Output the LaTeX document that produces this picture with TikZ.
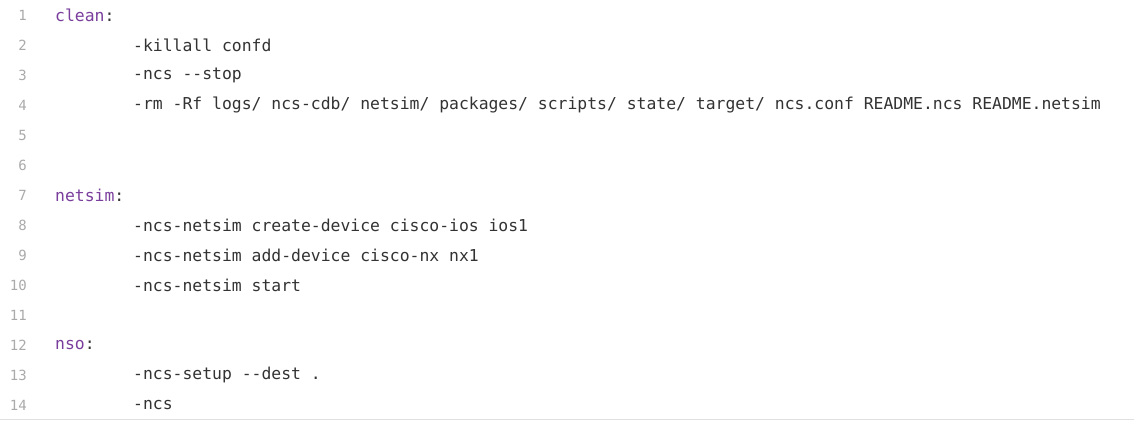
\documentclass[tikz,border=0pt]{standalone}
\usepackage{fontspec}
\setmonofont{DejaVu Sans Mono}
\usetikzlibrary{positioning}
\definecolor{numgray}{HTML}{AAAAAA}
\definecolor{keypurple}{HTML}{7A3E9D}
\definecolor{codetext}{HTML}{333333}
\definecolor{rulegray}{HTML}{E0E0E0}
\tikzset{
  num/.style={anchor=east,inner sep=0pt,text=numgray,font=\ttfamily\fontsize{14}{14}\selectfont},
  key/.style={anchor=west,inner sep=0pt,text=keypurple,font=\ttfamily\fontsize{16.4}{16}\selectfont},
  cmd/.style={anchor=west,inner sep=0pt,text=codetext,font=\ttfamily\fontsize{16.4}{16}\selectfont}
}
\begin{document}
\begin{tikzpicture}[x=1pt,y=-1pt]
\useasboundingbox (0,0) rectangle (1134,421);
\fill[white] (0,0) rectangle (1134,421);
\draw[rulegray,line width=1.5pt] (0,419.5) -- (1134,419.5);

% line numbers
\foreach \n in {1,...,14}
  \node[num] (n\n) at (27,{15+30*(\n-1)}) {\n};

\node[key] (l1) at (55,15) {clean\textcolor{codetext}{:}};
\node[cmd] (l2) at (133,45) {-killall confd};
\node[cmd] (l3) at (133,75) {-ncs --stop};
\node[cmd] (l4) at (133,105) {-rm -Rf logs/ ncs-cdb/ netsim/ packages/ scripts/ state/ target/ ncs.conf README.ncs README.netsim};

\node[key] (l7) at (55,195) {netsim\textcolor{codetext}{:}};
\node[cmd] (l8) at (133,225) {-ncs-netsim create-device cisco-ios ios1};
\node[cmd] (l9) at (133,255) {-ncs-netsim add-device cisco-nx nx1};
\node[cmd] (l10) at (133,285) {-ncs-netsim start};

\node[key] (l12) at (55,345) {nso\textcolor{codetext}{:}};
\node[cmd] (l13) at (133,375) {-ncs-setup --dest .};
\node[cmd] (l14) at (133,405) {-ncs};

\end{tikzpicture}
\end{document}
